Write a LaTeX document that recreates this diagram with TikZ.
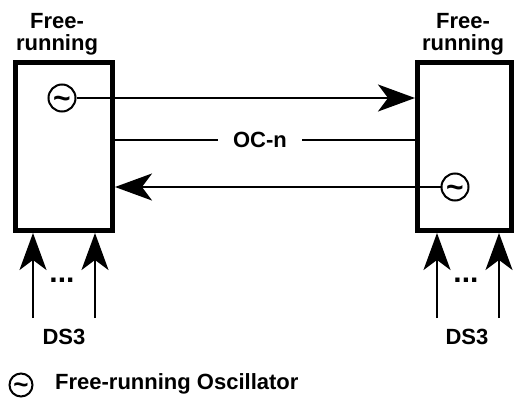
\documentclass[tikz,border=0pt]{standalone}
\usepackage{fontspec}
\setsansfont{Liberation Sans}
\usetikzlibrary{arrows.meta,positioning,calc}
\begin{document}
\begin{tikzpicture}[
  x=1pt, y=-1pt,
  font=\sffamily\bfseries\fontsize{22}{22}\selectfont,
  >={Stealth[length=37pt,width=27pt,inset=10pt]},
  box/.style={draw, line width=5pt, minimum height=168pt, inner sep=0pt},
  osc/.style={draw, circle, line width=2pt, minimum size=27pt, inner sep=0pt,
    font=\sffamily\bfseries\fontsize{30}{30}\selectfont},
  lab/.style={align=center, inner sep=0pt},
  wire/.style={line width=2pt},
  dots/.style={font=\sffamily\bfseries\fontsize{30}{30}\selectfont}
]
\useasboundingbox (0,0) rectangle (515,410);
\node[box, minimum width=97pt] (lbox) at (64,146.5) {};
\node[box, minimum width=94pt] (rbox) at (464.5,146.5) {};
\node[lab, anchor=north] (ltitle) at (57,13) {Free-\\running};
\node[lab, anchor=north] (rtitle) at (463,13) {Free-\\running};
\node[osc] (losc) at (62,98) {\raisebox{-10pt}[0pt][0pt]{\textasciitilde}};
\node[osc] (rosc) at (455,187) {\raisebox{-10pt}[0pt][0pt]{\textasciitilde}};
\draw[wire,->] (losc) -- (losc -| rbox.west);
\draw[wire,->] (rosc) -- (rosc -| lbox.east);
\node[inner xsep=15pt] (ocn) at (260,140) {OC-n};
\draw[wire] (ocn.west) -- (ocn.west -| lbox.east);
\draw[wire] (ocn.east) -- (ocn.east -| rbox.west);
\coordinate (la) at (33,318);
\coordinate (lb) at (95,318);
\coordinate (ra) at (437,318);
\coordinate (rb) at (499,318);
\draw[wire,->] (la) -- (la |- lbox.south);
\draw[wire,->] (lb) -- (lb |- lbox.south);
\draw[wire,->] (ra) -- (ra |- rbox.south);
\draw[wire,->] (rb) -- (rb |- rbox.south);
\node[dots] (ldots) at (62,280) {...};
\node[dots] (rdots) at (466,280) {...};
\node (lds) at (64,337) {DS3};
\node (rds) at (467,337) {DS3};
\node[osc, minimum size=23pt, font=\sffamily\bfseries\fontsize{26}{26}\selectfont] (key) at (21,385) {\raisebox{-8.5pt}[0pt][0pt]{\textasciitilde}};
\node[lab, anchor=west] (keytext) at (55,384) {Free-running Oscillator};
\end{tikzpicture}
\end{document}
